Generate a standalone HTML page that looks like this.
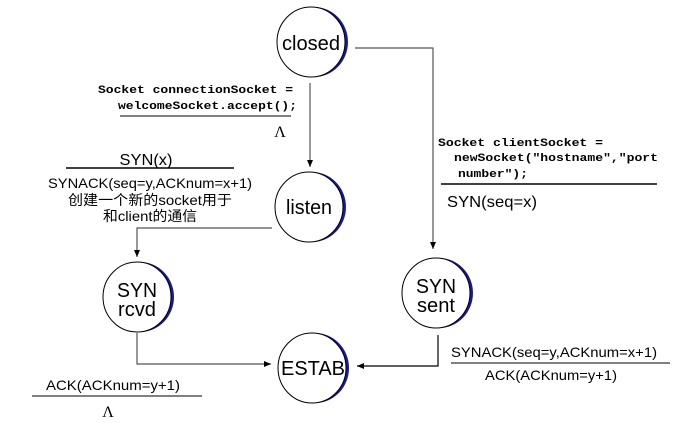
<!DOCTYPE html>
<html><head><meta charset="utf-8"><style>
html,body{margin:0;padding:0;background:#fff;}
svg{display:block;}
.s{font-family:"Liberation Sans","Noto Sans CJK SC",sans-serif;fill:#000;}
.m{font-family:"Liberation Mono",monospace;font-weight:bold;font-size:11px;fill:#000;}
</style></head><body>
<svg width="683" height="423" viewBox="0 0 683 423" xmlns="http://www.w3.org/2000/svg">
<defs>
<marker id="a" markerWidth="8" markerHeight="8" refX="7" refY="4" orient="auto" markerUnits="userSpaceOnUse">
<path d="M0,1 L7,4 L0,7 z" fill="#000"/></marker>
<g id="node">
<ellipse cx="3" cy="0" rx="34" ry="35" fill="#1a1a8c"/>
<ellipse cx="0" cy="0" rx="34" ry="35" fill="#fff" stroke="#000" stroke-width="1"/>
</g>
</defs>
<g stroke="#555" stroke-width="1.2" fill="none">
<path d="M310,83 V167" marker-end="url(#a)"/>
<path d="M355,48 H433 V249" marker-end="url(#a)"/>
<path d="M272,228 H137 V257" marker-end="url(#a)"/>
<path d="M137,333 V364 H271" marker-end="url(#a)"/>
<path d="M438,335 V366 H357" stroke="#000" marker-end="url(#a)"/>
</g>
<use href="#node" x="311" y="42"/>
<use href="#node" x="309" y="207"/>
<use href="#node" x="137" y="297"/>
<use href="#node" x="436" y="293"/>
<use href="#node" x="312" y="368"/>
<text class="s" x="311" y="50" font-size="20" text-anchor="middle" textLength="58" lengthAdjust="spacingAndGlyphs">closed</text>
<text class="s" x="309" y="214" font-size="20" text-anchor="middle" textLength="46" lengthAdjust="spacingAndGlyphs">listen</text>
<text class="s" x="137" y="297" font-size="20" text-anchor="middle" textLength="40" lengthAdjust="spacingAndGlyphs">SYN</text>
<text class="s" x="137" y="316" font-size="20" text-anchor="middle" textLength="38" lengthAdjust="spacingAndGlyphs">rcvd</text>
<text class="s" x="436" y="293" font-size="20" text-anchor="middle" textLength="40" lengthAdjust="spacingAndGlyphs">SYN</text>
<text class="s" x="436" y="312" font-size="20" text-anchor="middle" textLength="38" lengthAdjust="spacingAndGlyphs">sent</text>
<text class="s" x="313" y="375" font-size="20" text-anchor="middle" textLength="64" lengthAdjust="spacingAndGlyphs">ESTAB</text>

<text class="m" x="98" y="93" textLength="195" lengthAdjust="spacingAndGlyphs">Socket connectionSocket =</text>
<text class="m" x="118" y="109" textLength="179" lengthAdjust="spacingAndGlyphs">welcomeSocket.accept();</text>
<line x1="120" y1="116" x2="291" y2="116" stroke="#000" stroke-width="1"/>
<text x="280" y="137" font-family="Liberation Serif,serif" font-size="16" text-anchor="middle">Λ</text>

<text class="s" x="146" y="165" font-size="16" text-anchor="middle" textLength="53" lengthAdjust="spacingAndGlyphs">SYN(x)</text>
<line x1="66" y1="168" x2="234" y2="168" stroke="#000" stroke-width="1.5"/>
<text class="s" x="150" y="188" font-size="14" text-anchor="middle" textLength="204" lengthAdjust="spacingAndGlyphs">SYNACK(seq=y,ACKnum=x+1)</text>
<text class="s" x="150" y="205" font-size="14" text-anchor="middle" textLength="164" lengthAdjust="spacingAndGlyphs">创建一个新的socket用于</text>
<text class="s" x="150" y="221" font-size="14" text-anchor="middle" textLength="94" lengthAdjust="spacingAndGlyphs">和client的通信</text>

<text class="m" x="438" y="146" textLength="165" lengthAdjust="spacingAndGlyphs">Socket clientSocket =</text>
<text class="m" x="454" y="161" textLength="204" lengthAdjust="spacingAndGlyphs">newSocket("hostname","port</text>
<text class="m" x="458" y="177" textLength="70" lengthAdjust="spacingAndGlyphs">number");</text>
<line x1="441" y1="184" x2="657" y2="184" stroke="#000" stroke-width="1.5"/>
<text class="s" x="447" y="207" font-size="16" textLength="90" lengthAdjust="spacingAndGlyphs">SYN(seq=x)</text>

<text class="s" x="451" y="357" font-size="14" textLength="206" lengthAdjust="spacingAndGlyphs">SYNACK(seq=y,ACKnum=x+1)</text>
<line x1="451" y1="363" x2="670" y2="363" stroke="#000" stroke-width="1"/>
<text class="s" x="485" y="380" font-size="14" textLength="132" lengthAdjust="spacingAndGlyphs">ACK(ACKnum=y+1)</text>

<text class="s" x="46" y="390" font-size="14" textLength="134" lengthAdjust="spacingAndGlyphs">ACK(ACKnum=y+1)</text>
<line x1="32" y1="396" x2="202" y2="396" stroke="#000" stroke-width="1"/>
<text x="108" y="417" font-family="Liberation Serif,serif" font-size="16" text-anchor="middle">Λ</text>
</svg>
</body></html>
